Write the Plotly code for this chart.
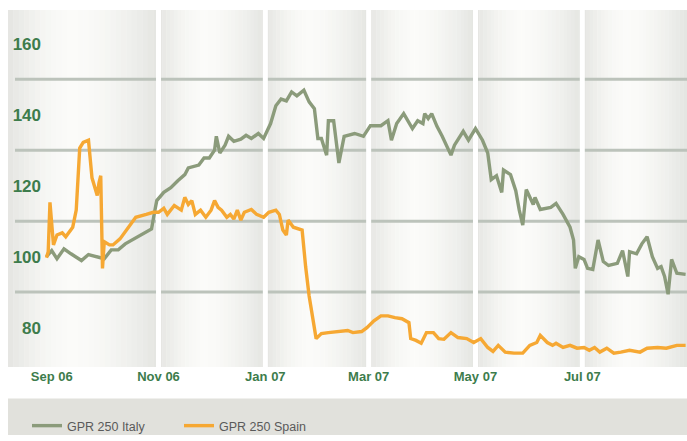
import plotly.graph_objects as go
import pandas as pd

# ---------------- data ----------------
italy_dates = [
    "2006-08-29", "2006-09-01", "2006-09-04", "2006-09-08", "2006-09-12", "2006-09-18",
    "2006-09-22", "2006-09-27", "2006-10-01", "2006-10-05", "2006-10-09", "2006-10-13",
    "2006-10-17", "2006-10-21", "2006-10-25", "2006-10-28", "2006-10-30", "2006-10-31",
    "2006-11-04", "2006-11-08", "2006-11-12", "2006-11-16", "2006-11-18", "2006-11-24",
    "2006-11-27", "2006-11-30", "2006-12-03", "2006-12-04", "2006-12-06", "2006-12-09",
    "2006-12-11", "2006-12-14", "2006-12-18", "2006-12-21", "2006-12-24", "2006-12-28",
    "2006-12-31", "2007-01-04", "2007-01-07", "2007-01-10", "2007-01-13", "2007-01-16",
    "2007-01-19", "2007-01-23", "2007-01-26", "2007-01-29", "2007-01-31", "2007-02-02",
    "2007-02-05", "2007-02-06", "2007-02-09", "2007-02-12", "2007-02-15", "2007-02-21",
    "2007-02-26", "2007-03-02", "2007-03-08", "2007-03-12", "2007-03-14", "2007-03-17",
    "2007-03-21", "2007-03-26", "2007-03-29", "2007-04-01", "2007-04-02", "2007-04-04",
    "2007-04-06", "2007-04-09", "2007-04-12", "2007-04-17", "2007-04-19", "2007-04-24",
    "2007-04-27", "2007-05-01", "2007-05-05", "2007-05-08", "2007-05-10", "2007-05-13",
    "2007-05-16", "2007-05-17", "2007-05-21", "2007-05-24", "2007-05-26", "2007-05-28",
    "2007-05-30", "2007-06-03", "2007-06-04", "2007-06-07", "2007-06-13", "2007-06-16",
    "2007-06-20", "2007-06-24", "2007-06-26", "2007-06-27", "2007-06-29", "2007-07-02",
    "2007-07-04", "2007-07-07", "2007-07-10", "2007-07-13", "2007-07-16", "2007-07-21",
    "2007-07-24", "2007-07-27", "2007-07-28", "2007-08-01", "2007-08-04", "2007-08-07",
    "2007-08-10", "2007-08-13", "2007-08-15", "2007-08-17", "2007-08-19", "2007-08-21",
    "2007-08-24", "2007-08-27", "2007-08-29",
]
italy_values = [
    100.0, 101.7, 99.4, 102.2, 100.8, 98.9,
    100.6, 100.0, 99.4, 101.9, 101.9, 103.6,
    104.7, 105.6, 106.7, 107.8, 113.3, 115.8,
    118.1, 119.4, 121.4, 123.1, 125.0, 125.8,
    127.8, 127.8, 130.0, 133.9, 129.2, 131.4,
    133.9, 132.5, 133.1, 134.2, 133.3, 134.7,
    133.3, 137.5, 142.5, 144.4, 143.9, 146.4,
    145.3, 146.9, 143.6, 141.7, 133.3, 133.3,
    128.6, 138.3, 138.3, 126.4, 133.9, 134.7,
    133.9, 136.9, 136.9, 138.3, 132.8, 137.5,
    140.3, 136.1, 138.3, 137.5, 140.3, 138.9,
    140.3, 136.7, 133.9, 128.6, 131.4, 135.3,
    132.8, 136.1, 132.8, 129.2, 121.7, 122.8,
    118.1, 124.4, 123.1, 118.6, 113.1, 108.9,
    118.9, 114.7, 116.7, 113.3, 113.9, 115.0,
    111.9, 108.3, 104.7, 96.7, 100.0, 99.2,
    96.7, 96.4, 104.7, 98.6, 97.5, 98.1,
    101.7, 94.4, 101.4, 100.8, 103.6, 105.6,
    100.0, 96.7, 97.2, 94.4, 89.4, 99.2,
    95.3, 95.0, 95.0,
]

spain_dates = [
    "2006-08-29", "2006-08-30", "2006-08-31", "2006-09-02", "2006-09-04", "2006-09-07",
    "2006-09-09", "2006-09-13", "2006-09-15", "2006-09-17", "2006-09-19", "2006-09-22",
    "2006-09-24", "2006-09-27", "2006-09-28", "2006-09-29", "2006-09-30", "2006-10-01",
    "2006-10-04", "2006-10-06", "2006-10-10", "2006-10-15", "2006-10-19", "2006-10-25",
    "2006-10-29", "2006-11-01", "2006-11-04", "2006-11-06", "2006-11-10", "2006-11-14",
    "2006-11-16", "2006-11-18", "2006-11-20", "2006-11-22", "2006-11-25", "2006-11-28",
    "2006-12-01", "2006-12-03", "2006-12-05", "2006-12-07", "2006-12-10", "2006-12-12",
    "2006-12-14", "2006-12-16", "2006-12-18", "2006-12-20", "2006-12-24", "2006-12-27",
    "2006-12-31", "2007-01-03", "2007-01-07", "2007-01-09", "2007-01-11", "2007-01-13",
    "2007-01-14", "2007-01-17", "2007-01-22", "2007-01-24", "2007-01-26", "2007-01-30",
    "2007-02-02", "2007-02-06", "2007-02-11", "2007-02-17", "2007-02-20", "2007-02-25",
    "2007-02-28", "2007-03-04", "2007-03-08", "2007-03-12", "2007-03-16", "2007-03-20",
    "2007-03-24", "2007-03-25", "2007-03-28", "2007-03-31", "2007-04-03", "2007-04-07",
    "2007-04-10", "2007-04-13", "2007-04-17", "2007-04-21", "2007-04-26", "2007-04-30",
    "2007-05-04", "2007-05-08", "2007-05-11", "2007-05-14", "2007-05-18", "2007-05-23",
    "2007-05-28", "2007-06-01", "2007-06-05", "2007-06-07", "2007-06-11", "2007-06-14",
    "2007-06-16", "2007-06-20", "2007-06-24", "2007-06-28", "2007-07-02", "2007-07-05",
    "2007-07-08", "2007-07-11", "2007-07-15", "2007-07-19", "2007-07-23", "2007-07-28",
    "2007-08-03", "2007-08-07", "2007-08-13", "2007-08-18", "2007-08-24", "2007-08-29",
]
spain_values = [
    99.7, 101.4, 115.3, 103.3, 106.1, 106.7,
    105.6, 108.3, 113.1, 130.6, 132.2, 132.8,
    122.2, 117.2, 120.8, 122.8, 96.7, 104.2,
    103.3, 103.3, 105.0, 108.3, 111.1, 111.9,
    112.5, 112.5, 113.6, 111.9, 114.4, 113.1,
    116.7, 114.7, 115.8, 111.9, 113.1, 111.1,
    113.1, 115.8, 113.9, 113.1, 111.1, 111.9,
    110.6, 113.1, 110.3, 112.5, 113.3, 111.9,
    111.1, 112.5, 113.1, 111.9, 107.5, 106.1,
    110.3, 108.3, 107.5, 97.2, 88.9, 76.9,
    78.3, 78.6, 78.9, 79.2, 78.6, 78.9,
    80.0, 81.9, 83.3, 83.3, 82.8, 82.5,
    81.4, 76.9, 76.4, 75.6, 78.6, 78.6,
    76.9, 76.7, 78.6, 77.2, 76.9, 75.8,
    76.9, 74.4, 73.3, 75.0, 73.1, 72.8,
    72.8, 75.0, 75.8, 77.8, 75.8, 75.0,
    75.6, 74.4, 75.0, 74.2, 74.4, 73.6,
    74.4, 73.1, 74.2, 72.8, 73.1, 73.6,
    73.1, 74.2, 74.4, 74.2, 75.0, 75.0,
]

series_names = ["GPR 250 Italy", "GPR 250 Spain"]
tick_dates = ["2006-09-01", "2006-11-01", "2007-01-01", "2007-03-01", "2007-05-01", "2007-07-01"]
tick_labels = ["Sep 06", "Nov 06", "Jan 07", "Mar 07", "May 07", "Jul 07"]
y_ticks = [80, 100, 120, 140, 160]
grid_values = [90, 110, 130, 150]

# ---------------- layout constants ----------------
W, H = 687, 441
ML, MR, MT, MB = 45, 0, 10, 69
PW = W - ML - MR
PH = H - MT - MB
x_range = [pd.Timestamp("2006-08-28 04:00"), pd.Timestamp("2007-08-29 19:00")]
y_range = [68.9, 169.5]

ITALY_COLOR = "#8b9b7b"
SPAIN_COLOR = "#f6a833"
LABEL_COLOR = "#3d7c4c"


def px_to_paper_x(px):
    return (px - ML) / PW


def px_to_paper_y(py):
    return (H - MB - py) / PH


def date_to_paper(d):
    d = pd.Timestamp(d)
    return (d - x_range[0]) / (x_range[1] - x_range[0])


shapes = []

# gradient panels
panel_edges = [px_to_paper_x(8)] + [date_to_paper(d) for d in tick_dates[1:]] + [1.0]
edge_rgb = (228, 229, 225)
peak_rgb = (251, 251, 249)
N = 28
for a, b in zip(panel_edges[:-1], panel_edges[1:]):
    for i in range(N):
        t = (i + 0.5) / N
        peak = 0.42
        if t < peak:
            f = ((peak - t) / peak) ** 1.6
        else:
            f = ((t - peak) / (1 - peak)) ** 1.6
        c = tuple(round(p + (e - p) * f) for p, e in zip(peak_rgb, edge_rgb))
        shapes.append(dict(
            type="rect", xref="paper", yref="paper",
            x0=a + (b - a) * i / N, x1=a + (b - a) * (i + 1) / N + 0.0005,
            y0=0, y1=1, line=dict(width=0),
            fillcolor="rgb(%d,%d,%d)" % c, layer="below",
        ))

# horizontal gridlines
for g in grid_values:
    shapes.append(dict(
        type="line", xref="paper", yref="y",
        x0=px_to_paper_x(15), x1=1, y0=g, y1=g,
        line=dict(color="#bcc3bb", width=3), layer="below",
    ))

# white panel separators
for d in tick_dates[1:]:
    shapes.append(dict(
        type="line", xref="x", yref="paper",
        x0=d, x1=d, y0=0, y1=1,
        line=dict(color="white", width=5), layer="below",
    ))

# legend band
shapes.append(dict(
    type="rect", xref="paper", yref="paper",
    x0=px_to_paper_x(8), x1=1, y0=px_to_paper_y(441), y1=px_to_paper_y(404),
    line=dict(width=0), fillcolor="#e1e1dc", layer="below",
))

fig = go.Figure()
fig.add_trace(go.Scatter(
    x=italy_dates, y=italy_values, mode="lines", name=series_names[0],
    line=dict(color=ITALY_COLOR, width=3.4),
))
fig.add_trace(go.Scatter(
    x=spain_dates, y=spain_values, mode="lines", name=series_names[1],
    line=dict(color=SPAIN_COLOR, width=3.4),
))

fig.update_layout(
    width=W, height=H,
    margin=dict(l=ML, r=MR, t=MT, b=MB, pad=0),
    paper_bgcolor="white",
    plot_bgcolor="rgba(0,0,0,0)",
    shapes=shapes,
    showlegend=True,
    legend=dict(
        orientation="h", x=px_to_paper_x(27), xanchor="left",
        y=px_to_paper_y(432), yanchor="middle",
        bgcolor="rgba(0,0,0,0)", traceorder="normal",
        font=dict(family="Liberation Sans, Arial", size=12.5, color="#5a5a5a"),
        entrywidth=107, entrywidthmode="pixels",
    ),
    xaxis=dict(
        range=x_range, type="date",
        tickvals=tick_dates, ticktext=tick_labels,
        showgrid=False, zeroline=False, showline=False, ticks="",
        tickfont=dict(family="Liberation Sans, Arial", size=13, color=LABEL_COLOR, weight="bold"),
        fixedrange=True,
    ),
    yaxis=dict(
        range=y_range, tickvals=y_ticks,
        showgrid=False, zeroline=False, showline=False, ticks="",
        tickfont=dict(family="Liberation Sans, Arial", size=17, color=LABEL_COLOR, weight="bold"),
        ticklabelstandoff=3,
        fixedrange=True,
    ),
)

fig.write_html("out.html")
